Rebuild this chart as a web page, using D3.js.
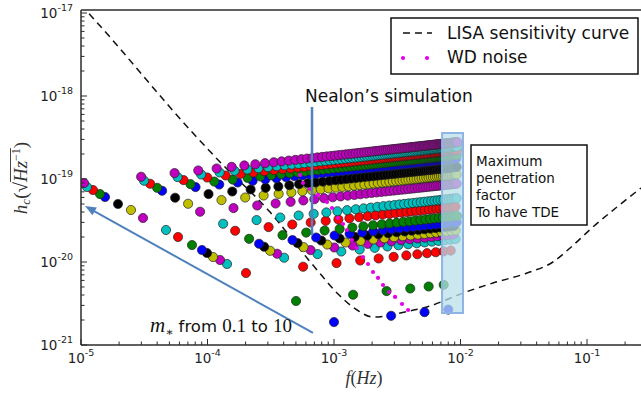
<!DOCTYPE html>
<html>
<head>
<meta charset="utf-8">
<script src="https://cdn.jsdelivr.net/npm/d3@7"></script>
<style>
  html, body { margin: 0; padding: 0; background: #fff; }
  svg { display: block; }
</style>
</head>
<body>
<svg id="chart" width="641" height="393"></svg>
<script>
// simulated TDE sources, one row per star mass, from m* = 0.1 (first) up to m* = 10 (last)
const rowStartFreq = [1.0e-3, 5.01e-4, 2.015e-4, 1.427e-4, 1.256e-4, 1.105e-4, 9.91e-5, 9.04e-5, 7.54e-5, 5.85e-5,
  4.70e-5, 3.09e-5, 2.484e-5, 1.961e-5, 1.548e-5, 1.413e-5, 1.244e-5, 1.115e-5, 1.056e-5];
const rowStartStrain = [1.89e-21, 3.39e-21, 7.37e-21, 9.46e-21, 1.057e-20, 1.148e-20, 1.283e-20, 1.395e-20, 1.60e-20, 2.00e-20,
  2.43e-20, 3.39e-20, 4.23e-20, 5.00e-20, 6.07e-20, 6.59e-20, 7.37e-20, 8.01e-20, 8.95e-20];
// largest penetration factor that still gives a TDE, per row
const rowMaxBeta = [4, 6, 12, 16, 17, 19, 20, 22, 25, 29, 34, 45, 52, 61, 71, 76, 83, 89, 93];
const rowColors = ['#0000ff', '#008000', '#ff0000', '#00bfbf', '#bf00bf', '#bfbf00', '#000000'];
// penetration factors beta = 1, 2, 3 ...
const penetration = d3.range(1, 94);

// LISA sensitivity curve
const lisaFreq = [1e-5, 1.222e-5, 7.67e-5, 1.256e-4, 3.12e-4, 6.12e-4, 7.35e-4, 1.057e-3, 1.521e-3, 2.03e-3, 2.53e-3,
  3.64e-3, 5.43e-3, 1.047e-2, 1.807e-2, 3.36e-2, 5.38e-2, 7.35e-2, 0.1114, 0.1726, 0.267];
const lisaStrain = [1.247e-17, 8.95e-18, 3.58e-19, 1.603e-19, 4.00e-20, 1.117e-20, 8.01e-21, 4.23e-21, 2.64e-21, 2.17e-21, 2.23e-21,
  2.50e-21, 2.87e-21, 4.23e-21, 5.58e-21, 7.37e-21, 1.0e-20, 1.475e-20, 2.64e-20, 4.60e-20, 7.79e-20];

// white dwarf confusion noise
const wdFreq = [5.39e-4, 5.69e-4, 6.46e-4, 7.47e-4, 8.81e-4, 9.64e-4, 1.075e-3, 1.178e-3, 1.267e-3, 1.388e-3,
  1.520e-3, 1.695e-3, 1.857e-3, 2.034e-3, 2.228e-3, 2.440e-3, 2.72e-3, 3.04e-3, 3.45e-3, 3.85e-3];
const wdStrain = [1.117e-19, 8.95e-20, 7.58e-20, 6.42e-20, 5.28e-20, 4.47e-20, 3.39e-20, 2.87e-20, 2.43e-20, 1.84e-20,
  1.475e-20, 1.148e-20, 9.46e-21, 7.58e-21, 6.42e-21, 5.28e-21, 4.35e-21, 3.79e-21, 3.12e-21, 2.64e-21];

const xTicks = [1e-5, 1e-4, 1e-3, 1e-2, 1e-1];
const xTickLabels = ['-5', '-4', '-3', '-2', '-1'];
const yTicks = [1e-21, 1e-20, 1e-19, 1e-18, 1e-17];
const yTickLabels = ['-21', '-20', '-19', '-18', '-17'];

const svg = d3.select('#chart');
const L = 81, R = 641, T = 10, B = 345;
const x = d3.scaleLog().domain([1e-5, 1]).range([L, L + 5 * 126.5]);
const y = d3.scaleLog().domain([1e-21, 1e-17]).range([B, 13]);

svg.append('defs').append('clipPath').attr('id', 'plot-clip')
  .append('rect').attr('x', L).attr('y', T).attr('width', R - L).attr('height', B - T);

const plot = svg.append('g').attr('clip-path', 'url(#plot-clip)');

// LISA curve
const lisa = lisaFreq.map((f, i) => ({ f, h: lisaStrain[i] }));
plot.append('path')
  .datum(lisa)
  .attr('d', d3.line().x(d => x(d.f)).y(d => y(d.h)).curve(d3.curveMonotoneX))
  .attr('fill', 'none').attr('stroke', '#111').attr('stroke-width', 1.5)
  .attr('stroke-dasharray', '7,5');

// simulation points, f ~ beta^(3/2) and h ~ beta^(1/4) along each row
const points = rowStartFreq.flatMap((f0, i) =>
  penetration.slice(0, rowMaxBeta[i]).map(b => ({
    f: f0 * Math.pow(b, 1.5),
    h: rowStartStrain[i] * Math.pow(b, 0.25),
    c: rowColors[i % rowColors.length]
  })));

plot.append('g').selectAll('circle').data(points).enter().append('circle')
  .attr('cx', d => x(d.f)).attr('cy', d => y(d.h)).attr('r', 4.6)
  .attr('fill', d => d.c).attr('stroke', '#222').attr('stroke-width', 0.7);

// WD noise
const wd = wdFreq.map((f, i) => ({ f, h: wdStrain[i] }));
plot.append('g').selectAll('circle').data(wd).enter().append('circle')
  .attr('cx', d => x(d.f)).attr('cy', d => y(d.h)).attr('r', 2.1)
  .attr('fill', '#e600e6');

// axes frame
const axisColor = '#2b2b2b';
svg.append('line').attr('x1', L).attr('x2', R).attr('y1', T).attr('y2', T)
  .attr('stroke', axisColor).attr('stroke-width', 1.5);
svg.append('line').attr('x1', L).attr('x2', L).attr('y1', T).attr('y2', B)
  .attr('stroke', axisColor).attr('stroke-width', 1.5);
svg.append('line').attr('x1', L).attr('x2', R).attr('y1', B).attr('y2', B)
  .attr('stroke', axisColor).attr('stroke-width', 1.5);

// minor + major ticks, pointing inwards
const xMinor = [];
for (let d = -5; d <= 0; d++) for (let k = 2; k <= 9; k++) {
  const v = k * Math.pow(10, d);
  if (x(v) < R) xMinor.push(v);
}
const yMinor = [];
for (let d = -21; d <= -17; d++) for (let k = 2; k <= 9; k++) {
  const v = k * Math.pow(10, d);
  if (y(v) > T) yMinor.push(v);
}
const ticks = svg.append('g').attr('stroke', axisColor).attr('stroke-width', 1);
ticks.selectAll('.xm').data(xMinor).enter().append('line')
  .attr('x1', d => x(d)).attr('x2', d => x(d)).attr('y1', B).attr('y2', B - 3.5);
ticks.selectAll('.xM').data(xTicks).enter().append('line')
  .attr('x1', d => x(d)).attr('x2', d => x(d)).attr('y1', B).attr('y2', B - 6);
ticks.selectAll('.ym').data(yMinor).enter().append('line')
  .attr('y1', d => y(d)).attr('y2', d => y(d)).attr('x1', L).attr('x2', L + 3.5);
ticks.selectAll('.yM').data(yTicks).enter().append('line')
  .attr('y1', d => y(d)).attr('y2', d => y(d)).attr('x1', L).attr('x2', L + 6);

// tick labels
const tickFont = "'DejaVu Sans', sans-serif";
const xl = svg.append('g').selectAll('text').data(xTicks).enter().append('text')
  .attr('x', d => x(d)).attr('y', 363).attr('text-anchor', 'middle')
  .attr('font-family', tickFont).attr('font-size', 13.5).attr('fill', '#222');
xl.append('tspan').text('10');
xl.append('tspan').attr('dy', -7).attr('font-size', 9.5).text((d, i) => xTickLabels[i]);

const yl = svg.append('g').selectAll('text').data(yTicks).enter().append('text')
  .attr('x', 73).attr('y', d => y(d) + 5).attr('text-anchor', 'end')
  .attr('font-family', tickFont).attr('font-size', 13.5).attr('fill', '#222');
yl.append('tspan').text('10');
yl.append('tspan').attr('dy', -7).attr('font-size', 9.5).text((d, i) => yTickLabels[i]);

// axis titles
const serif = "'Liberation Serif', 'DejaVu Serif', serif";
const xt = svg.append('text').attr('x', 364).attr('y', 384).attr('text-anchor', 'middle')
  .attr('font-family', serif).attr('font-size', 18).attr('fill', '#333');
xt.append('tspan').attr('font-style', 'italic').text('f');
xt.append('tspan').text('(');
xt.append('tspan').attr('font-style', 'italic').text('Hz');
xt.append('tspan').text(')');

const yg = svg.append('g').attr('transform', 'translate(27,178) rotate(-90)');
const yt = yg.append('text').attr('x', 0).attr('y', 0)
  .attr('font-family', serif).attr('font-size', 19).attr('fill', '#333');
yt.append('tspan').attr('font-style', 'italic').text('h');
yt.append('tspan').attr('font-style', 'italic').attr('font-size', 13).attr('dy', 3).text('c');
yt.append('tspan').attr('dy', -3).text('(√');
yt.append('tspan').attr('font-style', 'italic').text('Hz');
yt.append('tspan').attr('font-size', 12).attr('dy', -7).text('−1');
yt.append('tspan').attr('dy', 7).text(')');
const yw = yt.node().getComputedTextLength();
yt.attr('x', -yw / 2);
const ovStart = yt.node().getEndPositionOfChar(3).x;
const ovEnd = yt.node().getStartPositionOfChar(8).x;
yg.append('line').attr('x1', ovStart).attr('x2', ovEnd).attr('y1', -16.5).attr('y2', -16.5)
  .attr('stroke', '#333').attr('stroke-width', 0.9);

// legend
const lg = svg.append('g');
lg.append('rect').attr('x', 391).attr('y', 18).attr('width', 247).attr('height', 56)
  .attr('fill', '#fff').attr('stroke', '#111').attr('stroke-width', 1.5);
lg.append('line').attr('x1', 403).attr('x2', 432).attr('y1', 33).attr('y2', 33)
  .attr('stroke', '#111').attr('stroke-width', 1.5).attr('stroke-dasharray', '7,5');
lg.selectAll('.wdl').data([403, 427]).enter().append('circle')
  .attr('cx', d => d).attr('cy', 58).attr('r', 2.1).attr('fill', '#e600e6');
lg.append('text').attr('x', 447).attr('y', 39).attr('font-family', tickFont).attr('font-size', 17)
  .attr('fill', '#111').text('LISA sensitivity curve');
lg.append('text').attr('x', 447).attr('y', 63).attr('font-family', tickFont).attr('font-size', 17)
  .attr('fill', '#111').text('WD noise');

// annotations
const annBlue = '#4f81bd';
svg.append('rect')
  .attr('x', x(7.15e-3)).attr('y', y(3.58e-19))
  .attr('width', x(1.047e-2) - x(7.15e-3)).attr('height', y(2.43e-21) - y(3.58e-19))
  .attr('fill', 'rgba(186, 224, 236, 0.75)').attr('stroke', '#8eb4e3').attr('stroke-width', 2);

svg.append('line').attr('x1', x(6.70e-4)).attr('x2', x(6.70e-4)).attr('y1', y(7.37e-19)).attr('y2', y(2.11e-20))
  .attr('stroke', annBlue).attr('stroke-width', 2.5);
svg.append('text').attr('x', 305).attr('y', 102).attr('font-family', tickFont).attr('font-size', 17)
  .attr('fill', '#111').text('Nealon’s simulation');

// mass arrow
const ax1 = x(6.82e-4), ay1 = y(1.40e-21), ax2 = x(1.076e-5), ay2 = y(4.73e-20);
const ang = Math.atan2(ay2 - ay1, ax2 - ax1);
const hl = 11, hw = 4.5;
svg.append('line').attr('x1', ax1).attr('y1', ay1)
  .attr('x2', ax2 - Math.cos(ang) * hl * 0.8).attr('y2', ay2 - Math.sin(ang) * hl * 0.8)
  .attr('stroke', annBlue).attr('stroke-width', 2);
const bx = ax2 - Math.cos(ang) * hl, by = ay2 - Math.sin(ang) * hl;
svg.append('path')
  .attr('d', `M${ax2},${ay2}L${bx - Math.sin(ang) * hw},${by + Math.cos(ang) * hw}L${bx + Math.sin(ang) * hw},${by - Math.cos(ang) * hw}Z`)
  .attr('fill', annBlue);

const mt = svg.append('text').attr('x', 150).attr('y', 332).attr('fill', '#111');
mt.append('tspan').attr('font-family', serif).attr('font-style', 'italic').attr('font-size', 21).text('m');
mt.append('tspan').attr('font-family', serif).attr('font-size', 12).attr('dy', 4).text('∗');
mt.append('tspan').attr('font-family', tickFont).attr('font-size', 16.5).attr('dy', -4).text(' from ');
mt.append('tspan').attr('font-family', serif).attr('font-size', 19).text('0.1');
mt.append('tspan').attr('font-family', tickFont).attr('font-size', 16.5).text(' to ');
mt.append('tspan').attr('font-family', serif).attr('font-size', 19).text('10');

const box = svg.append('g');
box.append('rect').attr('x', 471).attr('y', 145).attr('width', 116).attr('height', 80)
  .attr('fill', '#fff').attr('stroke', '#111').attr('stroke-width', 1.5);
['Maximum', 'penetration', 'factor', 'To have TDE'].forEach((t, i) => {
  box.append('text').attr('x', 476).attr('y', 166 + i * 17)
    .attr('font-family', tickFont).attr('font-size', 13.5).attr('fill', '#111').text(t);
});
</script>
</body>
</html>
